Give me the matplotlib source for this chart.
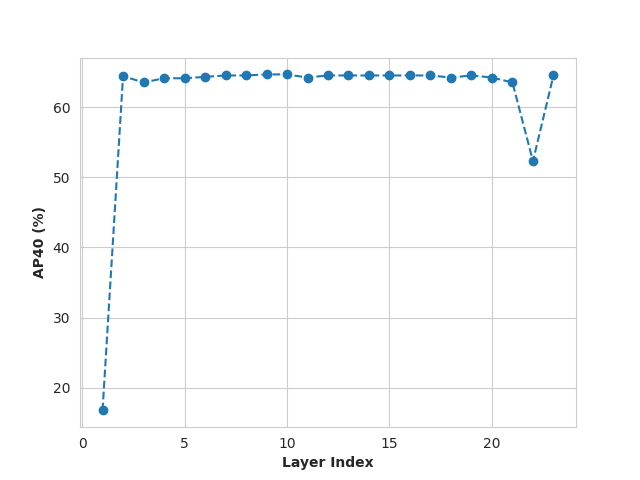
import matplotlib
matplotlib.use("Agg")
import matplotlib.pyplot as plt
import seaborn as sns

layers = list(range(1, 24))
ap40 = [16.8, 64.4, 63.5, 64.1, 64.1, 64.3, 64.5, 64.5, 64.65, 64.65, 64.2,
        64.5, 64.5, 64.5, 64.5, 64.5, 64.5, 64.2, 64.5, 64.2, 63.5, 52.3, 64.5]

sns.set_style("whitegrid")
fig, ax = plt.subplots(figsize=(6.4, 4.8), dpi=100)
ax.plot(layers, ap40, linestyle="--", marker="o", color="#1f77b4")
ax.set_xlabel("Layer Index", fontweight="bold")
ax.set_ylabel("AP40 (%)", fontweight="bold")
fig.savefig("out.png", dpi=100)
